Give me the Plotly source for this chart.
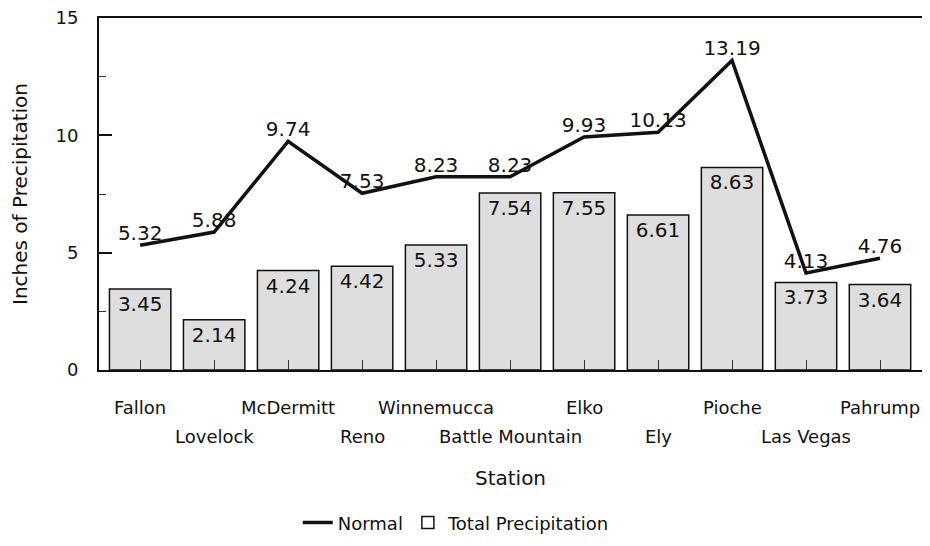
import plotly.graph_objects as go

stations = ["Fallon", "Lovelock", "McDermitt", "Reno", "Winnemucca", "Battle Mountain",
            "Elko", "Ely", "Pioche", "Las Vegas", "Pahrump"]
total_precip = [3.45, 2.14, 4.24, 4.42, 5.33, 7.54, 7.55, 6.61, 8.63, 3.73, 3.64]
normal = [5.32, 5.88, 9.74, 7.53, 8.23, 8.23, 9.93, 10.13, 13.19, 4.13, 4.76]
y_ticks = [0, 5, 10, 15]

FONT = "DejaVu Sans, Verdana, sans-serif"
INK = "#111111"

fig = go.Figure()

# real bars
fig.add_trace(go.Bar(
    x=stations, y=total_precip, name="Total Precipitation", showlegend=False,
    marker=dict(color="#dedede", line=dict(color=INK, width=1.5)),
    text=[f"{v:.2f}" for v in total_precip], textposition="inside",
    insidetextanchor="end", textangle=0,
    textfont=dict(size=20, color=INK, family=FONT),
    hoverinfo="skip",
))
# legend entry for bars (white box)
fig.add_trace(go.Bar(
    x=stations, y=[None] * len(stations), name="Total Precipitation",
    marker=dict(color="white", line=dict(color=INK, width=1.5)),
    showlegend=True, hoverinfo="skip",
))
fig.add_trace(go.Scatter(
    x=stations, y=normal, name="Normal", mode="lines+text",
    line=dict(color=INK, width=3.5),
    text=[f"{v:.2f}" for v in normal], textposition="top center",
    textfont=dict(size=20, color=INK, family=FONT),
))

# alternating two-row category labels
annotations = []
for i, s in enumerate(stations):
    annotations.append(dict(
        x=s, xref="x", y=0, yref="paper", yanchor="middle", xanchor="center",
        yshift=-37 if i % 2 == 0 else -66, text=s, showarrow=False,
        font=dict(size=18, color=INK, family=FONT),
    ))

fig.update_layout(
    width=930, height=546,
    margin=dict(l=91, r=16, t=10, b=184),
    paper_bgcolor="white", plot_bgcolor="white",
    font=dict(family=FONT, size=18, color=INK),
    barmode="overlay", bargap=0.17,
    legend=dict(orientation="h", xref="container", yref="container",
                x=0.482, xanchor="center", y=0.057, yanchor="middle",
                traceorder="reversed", font=dict(size=18), itemwidth=30,
                bgcolor="rgba(0,0,0,0)"),
    annotations=annotations,
    xaxis=dict(
        showticklabels=False, ticks="inside", ticklen=10, tickwidth=1,
        tickcolor="#333333", showline=True, linecolor=INK, linewidth=2,
        mirror=True, showgrid=False, automargin=False,
        title=dict(text="Station", standoff=100, font=dict(size=20)),
    ),
    yaxis=dict(
        range=[0, 15], tickvals=y_ticks, ticks="inside", ticklen=13, tickwidth=1.5,
        tickcolor=INK, showline=True, linecolor=INK, linewidth=2,
        mirror=True, showgrid=False, zeroline=False, automargin=False,
        tickfont=dict(size=18), ticklabelstandoff=15, ticklabeloverflow="allow",
        minor=dict(dtick=2.5, ticks="inside", ticklen=7, tickcolor="#333333", tickwidth=1),
        title=dict(text="Inches of Precipitation", font=dict(size=20), standoff=22),
    ),
)

fig.write_html("out.html")
